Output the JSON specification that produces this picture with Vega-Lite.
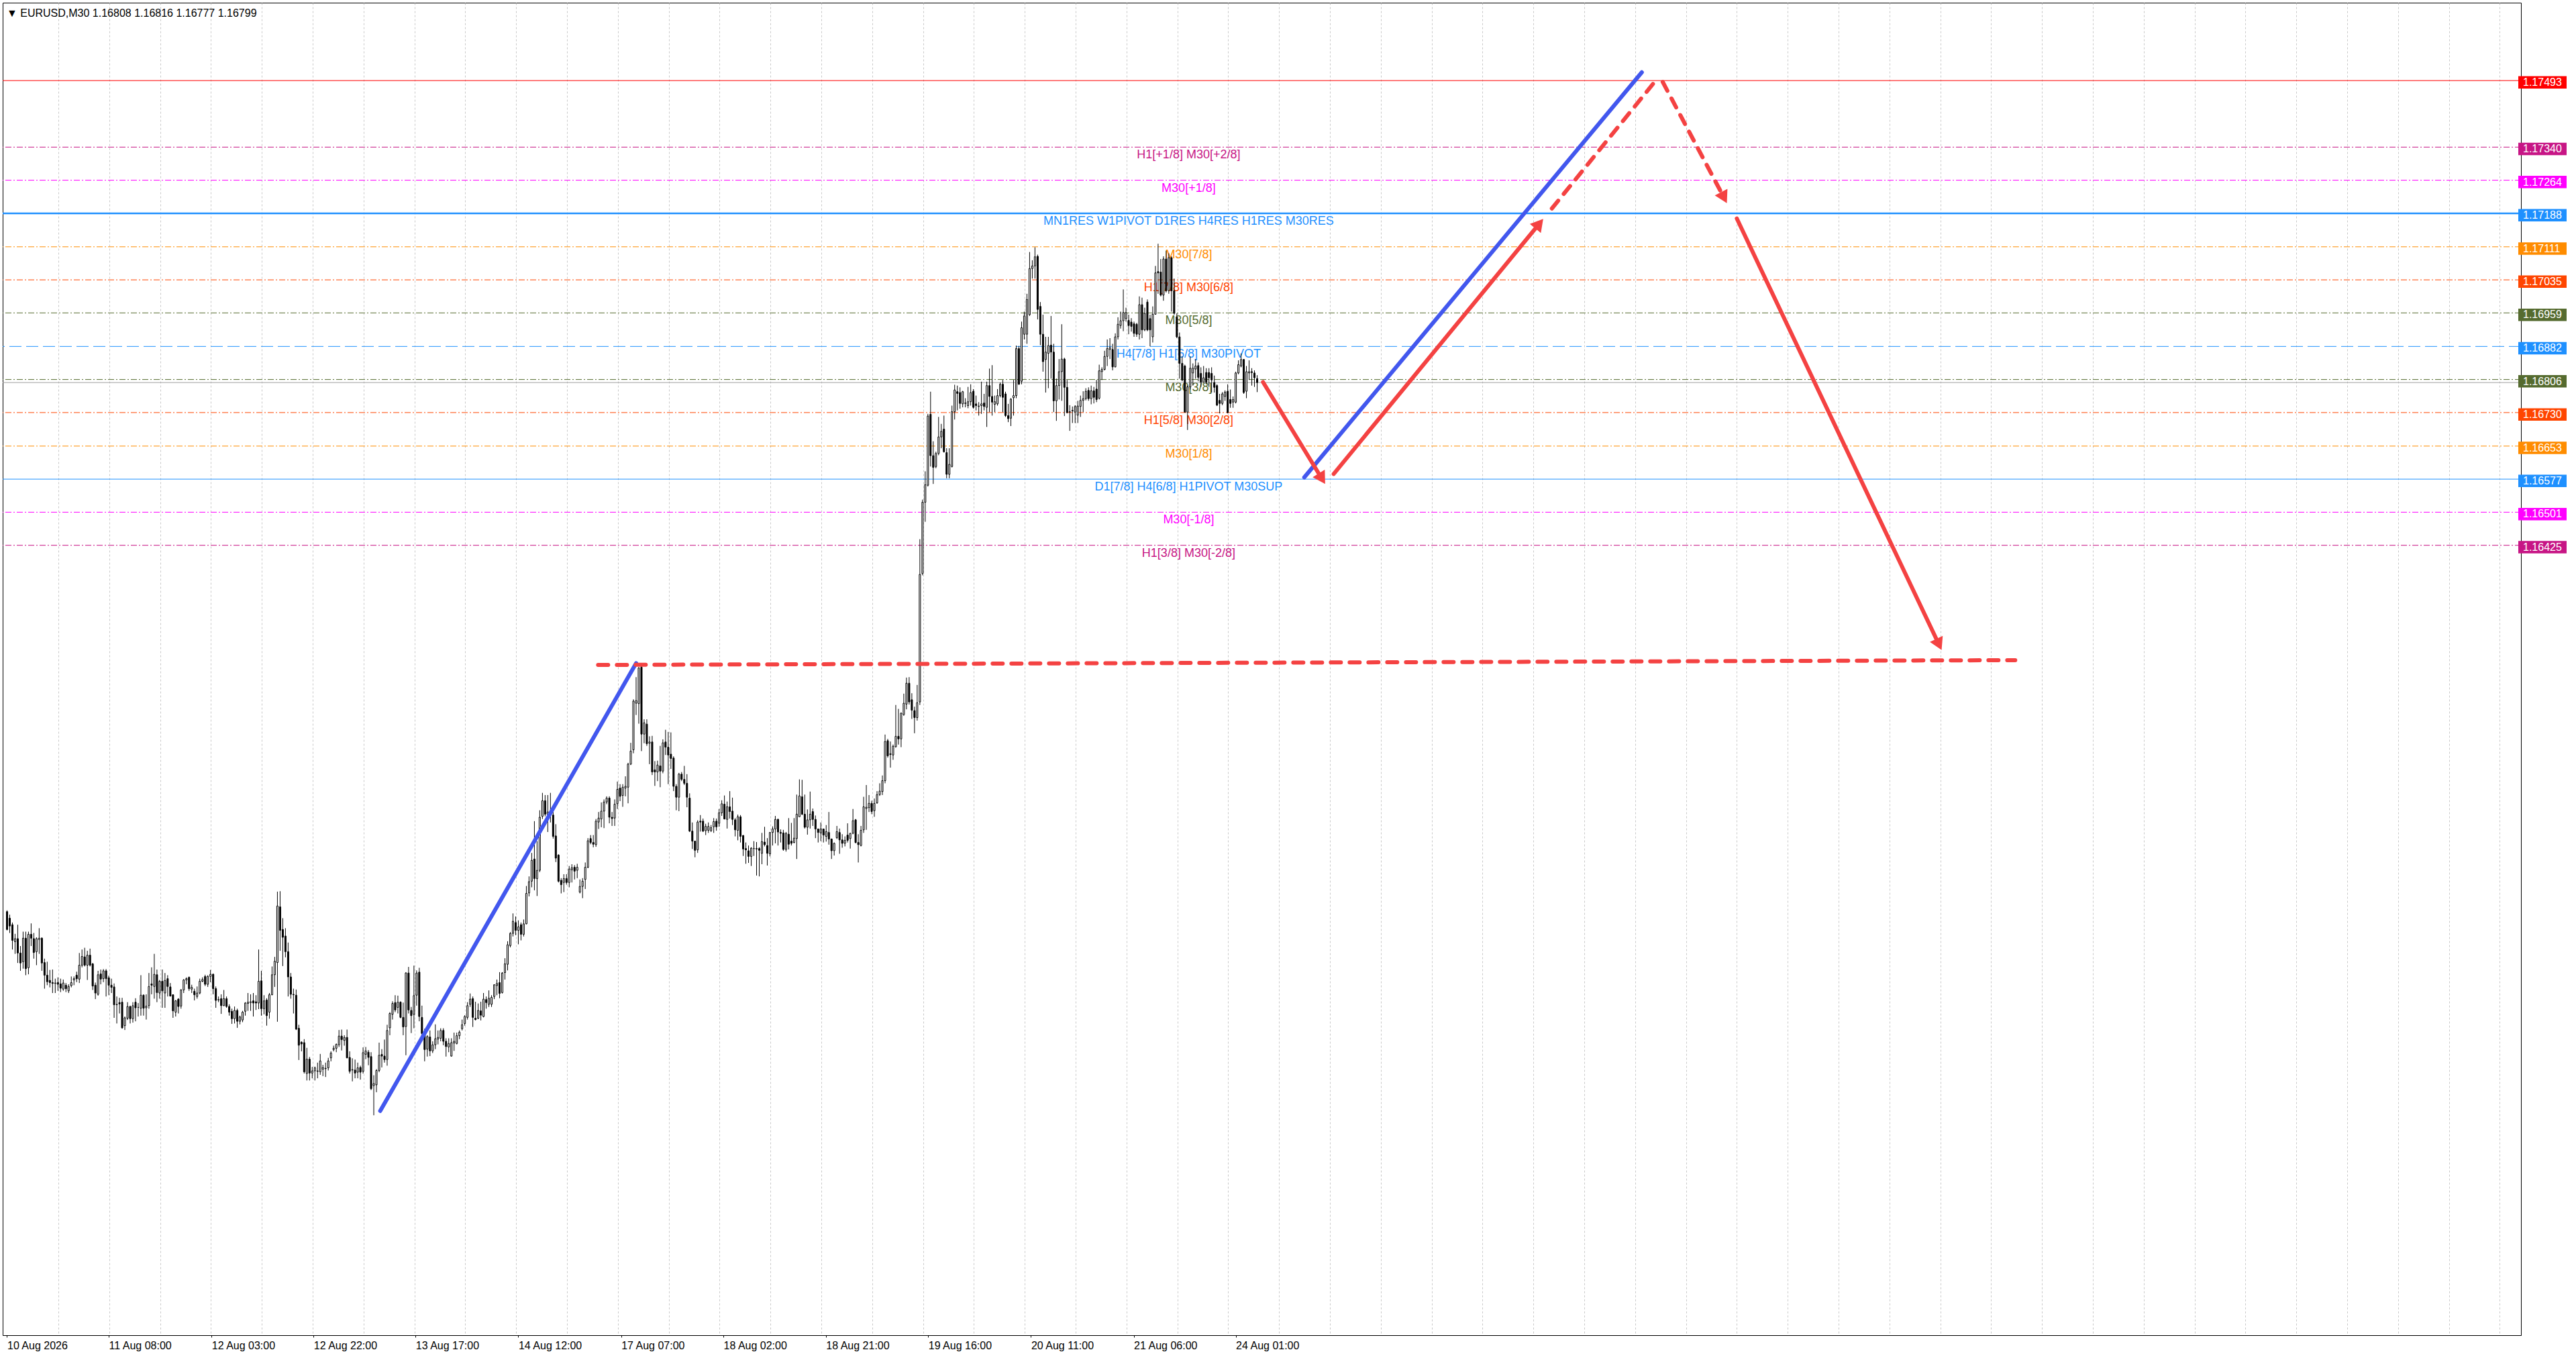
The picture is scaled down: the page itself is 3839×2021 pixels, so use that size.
{
  "$schema": "https://vega.github.io/schema/vega-lite/v6.json",
  "width": 3753,
  "height": 1986,
  "autosize": {"type": "none"},
  "padding": {"left": 4, "top": 4, "right": 82, "bottom": 31},
  "background": "#FFFFFF",
  "title": {
    "text": "▼ EURUSD,M30  1.16808 1.16816 1.16777 1.16799",
    "anchor": "start",
    "frame": "group",
    "orient": "top",
    "offset": -37,
    "baseline": "alphabetic",
    "dx": 6,
    "font": "Liberation Sans",
    "fontSize": 16,
    "fontWeight": "normal",
    "color": "#000000"
  },
  "config": {
    "view": {"stroke": "#000000", "strokeWidth": 1},
    "font": "Liberation Sans",
    "axis": {
      "labelFont": "Liberation Sans",
      "labelFontSize": 16,
      "labelColor": "#000000",
      "domainColor": "#000000",
      "tickColor": "#000000",
      "gridColor": "#C8C8C8",
      "gridDash": [3, 3],
      "gridWidth": 1
    }
  },
  "resolve": {"axis": {"x": "independent"}},
  "datasets": {
    "levels": [
      {"price": 1.17493, "tag": "alert", "label": ""},
      {"price": 1.1734, "tag": "+2/8", "label": "H1[+1/8] M30[+2/8]"},
      {"price": 1.17264, "tag": "+1/8", "label": "M30[+1/8]"},
      {"price": 1.17188, "tag": "8/8", "label": "MN1RES W1PIVOT D1RES H4RES H1RES M30RES"},
      {"price": 1.17111, "tag": "7/8", "label": "M30[7/8]"},
      {"price": 1.17035, "tag": "6/8", "label": "H1[7/8] M30[6/8]"},
      {"price": 1.16959, "tag": "5/8", "label": "M30[5/8]"},
      {"price": 1.16882, "tag": "4/8", "label": "H4[7/8] H1[6/8] M30PIVOT"},
      {"price": 1.16806, "tag": "3/8", "label": "M30[3/8]"},
      {"price": 1.1673, "tag": "2/8", "label": "H1[5/8] M30[2/8]"},
      {"price": 1.16653, "tag": "1/8", "label": "M30[1/8]"},
      {"price": 1.16577, "tag": "0/8", "label": "D1[7/8] H4[6/8] H1PIVOT M30SUP"},
      {"price": 1.16501, "tag": "-1/8", "label": "M30[-1/8]"},
      {"price": 1.16425, "tag": "-2/8", "label": "H1[3/8] M30[-2/8]"}
    ],
    "arrows": [
      {"seg": "wave1", "point": "start", "bar": 139.4, "price": 1.15125},
      {"seg": "wave1", "point": "end", "bar": 235.0, "price": 1.16154},
      {"seg": "target", "point": "start", "bar": 220.8, "price": 1.1615},
      {"seg": "target", "point": "end", "bar": 750.2, "price": 1.16161},
      {"seg": "dip", "point": "start", "bar": 469.2, "price": 1.168},
      {"seg": "dip", "point": "end", "bar": 491.2, "price": 1.16578},
      {"seg": "wave2", "point": "start", "bar": 484.6, "price": 1.16581},
      {"seg": "wave2", "point": "end", "bar": 610.7, "price": 1.17512},
      {"seg": "rally", "point": "start", "bar": 495.6, "price": 1.16589},
      {"seg": "rally", "point": "end", "bar": 572.4, "price": 1.17164},
      {"seg": "push", "point": "start", "bar": 577.1, "price": 1.17199},
      {"seg": "push", "point": "end", "bar": 615.5, "price": 1.1749},
      {"seg": "turn", "point": "start", "bar": 618.5, "price": 1.1749},
      {"seg": "turn", "point": "end", "bar": 641.4, "price": 1.17224},
      {"seg": "drop", "point": "start", "bar": 646.2, "price": 1.17176},
      {"seg": "drop", "point": "end", "bar": 721.7, "price": 1.16197}
    ],
    "bars": [
      {"bar":0,"open":1.15583,"high":1.15586,"low":1.1554,"close":1.15542},
      {"bar":1,"open":1.15568,"high":1.15576,"low":1.15534,"close":1.1555},
      {"bar":2,"open":1.15553,"high":1.15558,"low":1.15496,"close":1.15517},
      {"bar":3,"open":1.15514,"high":1.15532,"low":1.15486,"close":1.15521},
      {"bar":4,"open":1.15521,"high":1.15553,"low":1.15465,"close":1.15488},
      {"bar":5,"open":1.15488,"high":1.15504,"low":1.15447,"close":1.15465},
      {"bar":6,"open":1.15468,"high":1.15537,"low":1.15452,"close":1.15522},
      {"bar":7,"open":1.15522,"high":1.15537,"low":1.15437,"close":1.15452},
      {"bar":8,"open":1.15454,"high":1.15537,"low":1.15439,"close":1.15531},
      {"bar":9,"open":1.15531,"high":1.15556,"low":1.15504,"close":1.15522},
      {"bar":10,"open":1.15521,"high":1.15534,"low":1.15475,"close":1.15489},
      {"bar":11,"open":1.15491,"high":1.15524,"low":1.1546,"close":1.15521},
      {"bar":12,"open":1.15519,"high":1.15545,"low":1.15486,"close":1.15522},
      {"bar":13,"open":1.15522,"high":1.15524,"low":1.15447,"close":1.15465},
      {"bar":14,"open":1.15466,"high":1.15475,"low":1.15406,"close":1.15437},
      {"bar":15,"open":1.15437,"high":1.15468,"low":1.15414,"close":1.15422},
      {"bar":16,"open":1.15425,"high":1.15449,"low":1.15409,"close":1.1542},
      {"bar":17,"open":1.1542,"high":1.1545,"low":1.15396,"close":1.15418},
      {"bar":18,"open":1.15418,"high":1.15429,"low":1.15396,"close":1.15419},
      {"bar":19,"open":1.1542,"high":1.15432,"low":1.15401,"close":1.15416},
      {"bar":20,"open":1.15417,"high":1.15429,"low":1.15398,"close":1.15407},
      {"bar":21,"open":1.15405,"high":1.15427,"low":1.15401,"close":1.15419},
      {"bar":22,"open":1.15414,"high":1.15419,"low":1.15398,"close":1.15406},
      {"bar":23,"open":1.15401,"high":1.15416,"low":1.15396,"close":1.15411},
      {"bar":24,"open":1.15413,"high":1.15434,"low":1.15409,"close":1.1542},
      {"bar":25,"open":1.15426,"high":1.15434,"low":1.15414,"close":1.15429},
      {"bar":26,"open":1.15437,"high":1.15445,"low":1.15421,"close":1.15429},
      {"bar":27,"open":1.15428,"high":1.15488,"low":1.15419,"close":1.1546},
      {"bar":28,"open":1.1546,"high":1.15496,"low":1.15455,"close":1.1548},
      {"bar":29,"open":1.15479,"high":1.155,"low":1.15457,"close":1.1546},
      {"bar":30,"open":1.1546,"high":1.15493,"low":1.15426,"close":1.15483},
      {"bar":31,"open":1.15483,"high":1.15498,"low":1.15457,"close":1.1546},
      {"bar":32,"open":1.15463,"high":1.15465,"low":1.15403,"close":1.15412},
      {"bar":33,"open":1.15414,"high":1.1542,"low":1.15382,"close":1.15396},
      {"bar":34,"open":1.15393,"high":1.15447,"low":1.1539,"close":1.15438},
      {"bar":35,"open":1.1544,"high":1.1545,"low":1.15416,"close":1.15428},
      {"bar":36,"open":1.15429,"high":1.15451,"low":1.15421,"close":1.15447},
      {"bar":37,"open":1.15447,"high":1.15451,"low":1.15388,"close":1.15429},
      {"bar":38,"open":1.15431,"high":1.15436,"low":1.15391,"close":1.15414},
      {"bar":39,"open":1.15414,"high":1.15429,"low":1.15396,"close":1.15409},
      {"bar":40,"open":1.1541,"high":1.15418,"low":1.15339,"close":1.15369},
      {"bar":41,"open":1.15369,"high":1.15388,"low":1.15326,"close":1.1537},
      {"bar":42,"open":1.15374,"high":1.15385,"low":1.15349,"close":1.15371},
      {"bar":43,"open":1.15375,"high":1.15385,"low":1.15314,"close":1.15316},
      {"bar":44,"open":1.15321,"high":1.15342,"low":1.15311,"close":1.15339},
      {"bar":45,"open":1.15338,"high":1.15375,"low":1.15334,"close":1.15365},
      {"bar":46,"open":1.15365,"high":1.15367,"low":1.15326,"close":1.15337},
      {"bar":47,"open":1.15337,"high":1.15375,"low":1.15328,"close":1.15367},
      {"bar":48,"open":1.15375,"high":1.15384,"low":1.15331,"close":1.15362},
      {"bar":49,"open":1.15363,"high":1.15373,"low":1.15342,"close":1.15363},
      {"bar":50,"open":1.15361,"high":1.15437,"low":1.15344,"close":1.15391},
      {"bar":51,"open":1.15391,"high":1.15393,"low":1.15344,"close":1.15361},
      {"bar":52,"open":1.15362,"high":1.15393,"low":1.15335,"close":1.15366},
      {"bar":53,"open":1.15367,"high":1.15442,"low":1.1536,"close":1.15411},
      {"bar":54,"open":1.15417,"high":1.15455,"low":1.15393,"close":1.15414},
      {"bar":55,"open":1.15411,"high":1.15486,"low":1.15383,"close":1.15439},
      {"bar":56,"open":1.15438,"high":1.1545,"low":1.15375,"close":1.15397},
      {"bar":57,"open":1.15396,"high":1.15426,"low":1.15383,"close":1.15423},
      {"bar":58,"open":1.15423,"high":1.1545,"low":1.15362,"close":1.15401},
      {"bar":59,"open":1.15396,"high":1.15442,"low":1.15362,"close":1.15425},
      {"bar":60,"open":1.15429,"high":1.15437,"low":1.15388,"close":1.15411},
      {"bar":61,"open":1.1541,"high":1.15419,"low":1.15388,"close":1.15389},
      {"bar":62,"open":1.15392,"high":1.15393,"low":1.15339,"close":1.15355},
      {"bar":63,"open":1.15352,"high":1.1538,"low":1.15342,"close":1.15378},
      {"bar":64,"open":1.15382,"high":1.15384,"low":1.15349,"close":1.15365},
      {"bar":65,"open":1.15366,"high":1.15405,"low":1.1536,"close":1.15403},
      {"bar":66,"open":1.15403,"high":1.15428,"low":1.15396,"close":1.15426},
      {"bar":67,"open":1.15426,"high":1.15432,"low":1.15416,"close":1.15429},
      {"bar":68,"open":1.15432,"high":1.15434,"low":1.15401,"close":1.15406},
      {"bar":69,"open":1.15405,"high":1.15415,"low":1.15396,"close":1.15409},
      {"bar":70,"open":1.154,"high":1.15406,"low":1.15379,"close":1.15392},
      {"bar":71,"open":1.15388,"high":1.15411,"low":1.15383,"close":1.15396},
      {"bar":72,"open":1.15396,"high":1.15429,"low":1.15393,"close":1.15423},
      {"bar":73,"open":1.15423,"high":1.15432,"low":1.15421,"close":1.15427},
      {"bar":74,"open":1.15434,"high":1.15438,"low":1.15412,"close":1.15416},
      {"bar":75,"open":1.15416,"high":1.15437,"low":1.1541,"close":1.15434},
      {"bar":76,"open":1.15434,"high":1.15449,"low":1.15421,"close":1.15439},
      {"bar":77,"open":1.15439,"high":1.15441,"low":1.15393,"close":1.15406},
      {"bar":78,"open":1.15406,"high":1.15411,"low":1.15362,"close":1.15379},
      {"bar":79,"open":1.1538,"high":1.15388,"low":1.15375,"close":1.15381},
      {"bar":80,"open":1.15383,"high":1.15393,"low":1.15348,"close":1.15367},
      {"bar":81,"open":1.15367,"high":1.15403,"low":1.15366,"close":1.15383},
      {"bar":82,"open":1.15383,"high":1.15388,"low":1.15362,"close":1.15365},
      {"bar":83,"open":1.15365,"high":1.1537,"low":1.15344,"close":1.15352},
      {"bar":84,"open":1.15354,"high":1.1536,"low":1.15325,"close":1.15337},
      {"bar":85,"open":1.15337,"high":1.15365,"low":1.15326,"close":1.15356},
      {"bar":86,"open":1.15356,"high":1.1536,"low":1.15316,"close":1.15331},
      {"bar":87,"open":1.15331,"high":1.15344,"low":1.15324,"close":1.15341},
      {"bar":88,"open":1.15334,"high":1.15355,"low":1.15329,"close":1.15352},
      {"bar":89,"open":1.15354,"high":1.15375,"low":1.15344,"close":1.15373},
      {"bar":90,"open":1.15372,"high":1.15396,"low":1.15355,"close":1.15375},
      {"bar":91,"open":1.15374,"high":1.15393,"low":1.15355,"close":1.15376},
      {"bar":92,"open":1.15378,"high":1.15396,"low":1.15342,"close":1.15373},
      {"bar":93,"open":1.15376,"high":1.15391,"low":1.15357,"close":1.15373},
      {"bar":94,"open":1.15373,"high":1.15496,"low":1.15359,"close":1.15423},
      {"bar":95,"open":1.15424,"high":1.15447,"low":1.15344,"close":1.1536},
      {"bar":96,"open":1.1536,"high":1.15391,"low":1.15347,"close":1.15378},
      {"bar":97,"open":1.1538,"high":1.15384,"low":1.15321,"close":1.15344},
      {"bar":98,"open":1.15352,"high":1.15396,"low":1.15337,"close":1.15392},
      {"bar":99,"open":1.15392,"high":1.15457,"low":1.15391,"close":1.15438},
      {"bar":100,"open":1.15438,"high":1.15479,"low":1.1541,"close":1.15469},
      {"bar":101,"open":1.15466,"high":1.15629,"low":1.1533,"close":1.15596},
      {"bar":102,"open":1.15594,"high":1.1563,"low":1.15493,"close":1.1554},
      {"bar":103,"open":1.15542,"high":1.15568,"low":1.15458,"close":1.15524},
      {"bar":104,"open":1.15527,"high":1.15545,"low":1.15478,"close":1.15491},
      {"bar":105,"open":1.15491,"high":1.15512,"low":1.15388,"close":1.15433},
      {"bar":106,"open":1.15433,"high":1.15442,"low":1.15383,"close":1.15393},
      {"bar":107,"open":1.15393,"high":1.15406,"low":1.15349,"close":1.15392},
      {"bar":108,"open":1.15391,"high":1.15404,"low":1.15311,"close":1.15313},
      {"bar":109,"open":1.15315,"high":1.15323,"low":1.15242,"close":1.15276},
      {"bar":110,"open":1.15283,"high":1.15285,"low":1.15262,"close":1.15279},
      {"bar":111,"open":1.15282,"high":1.1529,"low":1.15211,"close":1.15215},
      {"bar":112,"open":1.15211,"high":1.1527,"low":1.15195,"close":1.15244},
      {"bar":113,"open":1.15244,"high":1.15249,"low":1.15195,"close":1.15212},
      {"bar":114,"open":1.15212,"high":1.15226,"low":1.152,"close":1.15217},
      {"bar":115,"open":1.15217,"high":1.15227,"low":1.15195,"close":1.15224},
      {"bar":116,"open":1.15216,"high":1.15236,"low":1.152,"close":1.15217},
      {"bar":117,"open":1.15215,"high":1.15256,"low":1.15208,"close":1.1524},
      {"bar":118,"open":1.15221,"high":1.15231,"low":1.15205,"close":1.15225},
      {"bar":119,"open":1.15222,"high":1.15236,"low":1.15203,"close":1.15223},
      {"bar":120,"open":1.15224,"high":1.15247,"low":1.15218,"close":1.1524},
      {"bar":121,"open":1.15247,"high":1.15262,"low":1.15239,"close":1.15258},
      {"bar":122,"open":1.15266,"high":1.15275,"low":1.15262,"close":1.15269},
      {"bar":123,"open":1.15269,"high":1.1528,"low":1.1526,"close":1.15278},
      {"bar":124,"open":1.15277,"high":1.15311,"low":1.15272,"close":1.15297},
      {"bar":125,"open":1.15297,"high":1.15312,"low":1.15264,"close":1.15289},
      {"bar":126,"open":1.15287,"high":1.15299,"low":1.15275,"close":1.15294},
      {"bar":127,"open":1.15294,"high":1.15312,"low":1.15246,"close":1.15247},
      {"bar":128,"open":1.15248,"high":1.15262,"low":1.15211,"close":1.15216},
      {"bar":129,"open":1.15219,"high":1.15246,"low":1.15193,"close":1.1522},
      {"bar":130,"open":1.15219,"high":1.15243,"low":1.152,"close":1.15212},
      {"bar":131,"open":1.15214,"high":1.15236,"low":1.152,"close":1.15224},
      {"bar":132,"open":1.15225,"high":1.15229,"low":1.15197,"close":1.15214},
      {"bar":133,"open":1.15216,"high":1.15271,"low":1.15211,"close":1.15259},
      {"bar":134,"open":1.15255,"high":1.15272,"low":1.15244,"close":1.15263},
      {"bar":135,"open":1.1526,"high":1.15265,"low":1.1523,"close":1.15248},
      {"bar":136,"open":1.1525,"high":1.1526,"low":1.15173,"close":1.15176},
      {"bar":137,"open":1.15183,"high":1.15207,"low":1.15115,"close":1.15188},
      {"bar":138,"open":1.15185,"high":1.15221,"low":1.15168,"close":1.15218},
      {"bar":139,"open":1.15218,"high":1.15282,"low":1.15214,"close":1.15253},
      {"bar":140,"open":1.15255,"high":1.15267,"low":1.15225,"close":1.15251},
      {"bar":141,"open":1.15251,"high":1.15289,"low":1.15236,"close":1.15243},
      {"bar":142,"open":1.15243,"high":1.15323,"low":1.15229,"close":1.1531},
      {"bar":143,"open":1.15316,"high":1.15352,"low":1.15299,"close":1.15349},
      {"bar":144,"open":1.15347,"high":1.15377,"low":1.15335,"close":1.15372},
      {"bar":145,"open":1.15374,"high":1.15391,"low":1.15352,"close":1.15357},
      {"bar":146,"open":1.15363,"high":1.1539,"low":1.15349,"close":1.15375},
      {"bar":147,"open":1.15375,"high":1.15377,"low":1.15338,"close":1.1534},
      {"bar":148,"open":1.1534,"high":1.15374,"low":1.15299,"close":1.15318},
      {"bar":149,"open":1.15319,"high":1.15444,"low":1.15253,"close":1.15442},
      {"bar":150,"open":1.15442,"high":1.15456,"low":1.15349,"close":1.15357},
      {"bar":151,"open":1.15356,"high":1.15364,"low":1.15304,"close":1.15344},
      {"bar":152,"open":1.15347,"high":1.15459,"low":1.15315,"close":1.1539},
      {"bar":153,"open":1.15391,"high":1.15448,"low":1.15367,"close":1.15442},
      {"bar":154,"open":1.15444,"high":1.15454,"low":1.15331,"close":1.15342},
      {"bar":155,"open":1.1534,"high":1.15367,"low":1.15285,"close":1.15303},
      {"bar":156,"open":1.15303,"high":1.15314,"low":1.15239,"close":1.15266},
      {"bar":157,"open":1.15267,"high":1.15299,"low":1.1525,"close":1.15296},
      {"bar":158,"open":1.15295,"high":1.1531,"low":1.15251,"close":1.15263},
      {"bar":159,"open":1.15263,"high":1.15285,"low":1.15258,"close":1.15277},
      {"bar":160,"open":1.15277,"high":1.15324,"low":1.15267,"close":1.15291},
      {"bar":161,"open":1.1529,"high":1.1531,"low":1.15278,"close":1.15294},
      {"bar":162,"open":1.15292,"high":1.15315,"low":1.15285,"close":1.1531},
      {"bar":163,"open":1.1531,"high":1.15315,"low":1.15276,"close":1.15285},
      {"bar":164,"open":1.15285,"high":1.15292,"low":1.1525,"close":1.15273},
      {"bar":165,"open":1.15272,"high":1.15292,"low":1.1526,"close":1.1528},
      {"bar":166,"open":1.15251,"high":1.15292,"low":1.1525,"close":1.15282},
      {"bar":167,"open":1.15281,"high":1.15305,"low":1.15263,"close":1.15285},
      {"bar":168,"open":1.1528,"high":1.15305,"low":1.15278,"close":1.15298},
      {"bar":169,"open":1.15298,"high":1.1531,"low":1.1529,"close":1.15306},
      {"bar":170,"open":1.15314,"high":1.15335,"low":1.1531,"close":1.15323},
      {"bar":171,"open":1.15326,"high":1.15345,"low":1.15321,"close":1.15342},
      {"bar":172,"open":1.1534,"high":1.15375,"low":1.15335,"close":1.15367},
      {"bar":173,"open":1.1537,"high":1.15395,"low":1.15364,"close":1.15382},
      {"bar":174,"open":1.15383,"high":1.15388,"low":1.15318,"close":1.1534},
      {"bar":175,"open":1.15338,"high":1.15376,"low":1.15333,"close":1.15335},
      {"bar":176,"open":1.15338,"high":1.15372,"low":1.15336,"close":1.15356},
      {"bar":177,"open":1.15355,"high":1.15376,"low":1.15333,"close":1.15345},
      {"bar":178,"open":1.15342,"high":1.15396,"low":1.1534,"close":1.15382},
      {"bar":179,"open":1.15381,"high":1.15388,"low":1.1536,"close":1.15374},
      {"bar":180,"open":1.1537,"high":1.15402,"low":1.15364,"close":1.15384},
      {"bar":181,"open":1.1537,"high":1.15391,"low":1.15364,"close":1.15386},
      {"bar":182,"open":1.15388,"high":1.15416,"low":1.15382,"close":1.15415},
      {"bar":183,"open":1.15413,"high":1.15427,"low":1.15391,"close":1.15418},
      {"bar":184,"open":1.1542,"high":1.15444,"low":1.15384,"close":1.15395},
      {"bar":185,"open":1.15397,"high":1.15444,"low":1.15395,"close":1.15442},
      {"bar":186,"open":1.15443,"high":1.15476,"low":1.15427,"close":1.15463},
      {"bar":187,"open":1.15462,"high":1.15515,"low":1.15448,"close":1.15507},
      {"bar":188,"open":1.15505,"high":1.15536,"low":1.15501,"close":1.15533},
      {"bar":189,"open":1.15533,"high":1.15579,"low":1.15526,"close":1.15561},
      {"bar":190,"open":1.15558,"high":1.15572,"low":1.15529,"close":1.1554},
      {"bar":191,"open":1.1554,"high":1.15563,"low":1.15508,"close":1.15548},
      {"bar":192,"open":1.15553,"high":1.15558,"low":1.15517,"close":1.15531},
      {"bar":193,"open":1.15531,"high":1.15565,"low":1.15526,"close":1.15555},
      {"bar":194,"open":1.15555,"high":1.15642,"low":1.15554,"close":1.15625},
      {"bar":195,"open":1.15626,"high":1.15664,"low":1.15618,"close":1.15652},
      {"bar":196,"open":1.15653,"high":1.15718,"low":1.15639,"close":1.15701},
      {"bar":197,"open":1.15704,"high":1.15791,"low":1.15632,"close":1.15659},
      {"bar":198,"open":1.15659,"high":1.15745,"low":1.15619,"close":1.15678},
      {"bar":199,"open":1.15678,"high":1.15816,"low":1.15674,"close":1.158},
      {"bar":200,"open":1.15802,"high":1.15856,"low":1.15796,"close":1.15838},
      {"bar":201,"open":1.15838,"high":1.15851,"low":1.15802,"close":1.15807},
      {"bar":202,"open":1.15807,"high":1.15851,"low":1.15766,"close":1.15812},
      {"bar":203,"open":1.1581,"high":1.15856,"low":1.15788,"close":1.15812},
      {"bar":204,"open":1.15805,"high":1.15812,"low":1.15751,"close":1.15756},
      {"bar":205,"open":1.15757,"high":1.15784,"low":1.15697,"close":1.15706},
      {"bar":206,"open":1.15713,"high":1.15715,"low":1.1565,"close":1.15653},
      {"bar":207,"open":1.15655,"high":1.1566,"low":1.15625,"close":1.15645},
      {"bar":208,"open":1.1565,"high":1.15669,"low":1.15628,"close":1.15659},
      {"bar":209,"open":1.15659,"high":1.15669,"low":1.15645,"close":1.1565},
      {"bar":210,"open":1.1565,"high":1.15688,"low":1.15639,"close":1.15681},
      {"bar":211,"open":1.15679,"high":1.15692,"low":1.1565,"close":1.15684},
      {"bar":212,"open":1.15685,"high":1.1569,"low":1.15657,"close":1.15676},
      {"bar":213,"open":1.15678,"high":1.15693,"low":1.1566,"close":1.15685},
      {"bar":214,"open":1.15628,"high":1.15657,"low":1.15625,"close":1.15641},
      {"bar":215,"open":1.15641,"high":1.1566,"low":1.15614,"close":1.15653},
      {"bar":216,"open":1.15657,"high":1.15696,"low":1.15635,"close":1.15685},
      {"bar":217,"open":1.15685,"high":1.15752,"low":1.15683,"close":1.15746},
      {"bar":218,"open":1.15751,"high":1.15759,"low":1.15738,"close":1.15742},
      {"bar":219,"open":1.15742,"high":1.15759,"low":1.15731,"close":1.15738},
      {"bar":220,"open":1.15737,"high":1.15796,"low":1.15732,"close":1.15791},
      {"bar":221,"open":1.15789,"high":1.15812,"low":1.15773,"close":1.15798},
      {"bar":222,"open":1.15796,"high":1.15834,"low":1.15777,"close":1.15814},
      {"bar":223,"open":1.15814,"high":1.15841,"low":1.15775,"close":1.15835},
      {"bar":224,"open":1.15835,"high":1.15848,"low":1.1583,"close":1.15844},
      {"bar":225,"open":1.15844,"high":1.15848,"low":1.15786,"close":1.158},
      {"bar":226,"open":1.158,"high":1.15812,"low":1.1578,"close":1.15797},
      {"bar":227,"open":1.15798,"high":1.15841,"low":1.1578,"close":1.1583},
      {"bar":228,"open":1.15831,"high":1.15882,"low":1.15819,"close":1.15864},
      {"bar":229,"open":1.15867,"high":1.15876,"low":1.15837,"close":1.15848},
      {"bar":230,"open":1.1585,"high":1.15876,"low":1.15824,"close":1.15869},
      {"bar":231,"open":1.15867,"high":1.15894,"low":1.15848,"close":1.15871},
      {"bar":232,"open":1.15869,"high":1.15925,"low":1.15832,"close":1.15922},
      {"bar":233,"open":1.15922,"high":1.15971,"low":1.1592,"close":1.15952},
      {"bar":234,"open":1.15955,"high":1.16071,"low":1.15947,"close":1.16067},
      {"bar":235,"open":1.16062,"high":1.16122,"low":1.16035,"close":1.16068},
      {"bar":236,"open":1.16061,"high":1.16145,"low":1.16015,"close":1.16143},
      {"bar":237,"open":1.16145,"high":1.1615,"low":1.15952,"close":1.15991},
      {"bar":238,"open":1.15991,"high":1.16025,"low":1.1597,"close":1.16017},
      {"bar":239,"open":1.16014,"high":1.16025,"low":1.15964,"close":1.15969},
      {"bar":240,"open":1.1597,"high":1.15986,"low":1.15922,"close":1.15973},
      {"bar":241,"open":1.15973,"high":1.15987,"low":1.15897,"close":1.15904},
      {"bar":242,"open":1.15909,"high":1.15929,"low":1.15872,"close":1.15904},
      {"bar":243,"open":1.15904,"high":1.1593,"low":1.15883,"close":1.1592},
      {"bar":244,"open":1.15918,"high":1.15964,"low":1.15869,"close":1.15906},
      {"bar":245,"open":1.15906,"high":1.15979,"low":1.15901,"close":1.15971},
      {"bar":246,"open":1.15973,"high":1.16001,"low":1.15943,"close":1.15961},
      {"bar":247,"open":1.15961,"high":1.15996,"low":1.15876,"close":1.15943},
      {"bar":248,"open":1.15945,"high":1.15995,"low":1.15911,"close":1.15935},
      {"bar":249,"open":1.15936,"high":1.1594,"low":1.1586,"close":1.15871},
      {"bar":250,"open":1.15871,"high":1.15876,"low":1.15816,"close":1.15846},
      {"bar":251,"open":1.15846,"high":1.15902,"low":1.15814,"close":1.15899},
      {"bar":252,"open":1.15899,"high":1.15904,"low":1.15883,"close":1.15887},
      {"bar":253,"open":1.15887,"high":1.15918,"low":1.15874,"close":1.15878},
      {"bar":254,"open":1.15878,"high":1.15899,"low":1.15823,"close":1.15846},
      {"bar":255,"open":1.15844,"high":1.15855,"low":1.15766,"close":1.15768},
      {"bar":256,"open":1.15768,"high":1.15788,"low":1.15727,"close":1.15745},
      {"bar":257,"open":1.15745,"high":1.15746,"low":1.15708,"close":1.15724},
      {"bar":258,"open":1.15725,"high":1.15793,"low":1.15718,"close":1.15789},
      {"bar":259,"open":1.15791,"high":1.15805,"low":1.15767,"close":1.15789},
      {"bar":260,"open":1.15791,"high":1.15797,"low":1.15766,"close":1.15768},
      {"bar":261,"open":1.15769,"high":1.15785,"low":1.15759,"close":1.15779},
      {"bar":262,"open":1.1577,"high":1.15788,"low":1.15764,"close":1.15779},
      {"bar":263,"open":1.15769,"high":1.15782,"low":1.15766,"close":1.15776},
      {"bar":264,"open":1.15778,"high":1.15798,"low":1.15764,"close":1.1579},
      {"bar":265,"open":1.15791,"high":1.15797,"low":1.15769,"close":1.15778},
      {"bar":266,"open":1.15786,"high":1.15819,"low":1.15778,"close":1.1581},
      {"bar":267,"open":1.1581,"high":1.15839,"low":1.15803,"close":1.15831},
      {"bar":268,"open":1.1583,"high":1.1585,"low":1.15795,"close":1.15796},
      {"bar":269,"open":1.15795,"high":1.15836,"low":1.15774,"close":1.15824},
      {"bar":270,"open":1.15824,"high":1.1586,"low":1.15797,"close":1.15813},
      {"bar":271,"open":1.15814,"high":1.15845,"low":1.15782,"close":1.15795},
      {"bar":272,"open":1.15794,"high":1.15798,"low":1.15756,"close":1.15771},
      {"bar":273,"open":1.1577,"high":1.15806,"low":1.15747,"close":1.15801},
      {"bar":274,"open":1.15801,"high":1.15805,"low":1.15742,"close":1.15756},
      {"bar":275,"open":1.15758,"high":1.15759,"low":1.15711,"close":1.15727},
      {"bar":276,"open":1.15728,"high":1.15742,"low":1.15693,"close":1.15725},
      {"bar":277,"open":1.15723,"high":1.15735,"low":1.15695,"close":1.1571},
      {"bar":278,"open":1.1571,"high":1.15731,"low":1.15688,"close":1.15729},
      {"bar":279,"open":1.15728,"high":1.15745,"low":1.15711,"close":1.15728},
      {"bar":280,"open":1.15728,"high":1.15743,"low":1.15666,"close":1.15727},
      {"bar":281,"open":1.15728,"high":1.15731,"low":1.15664,"close":1.15724},
      {"bar":282,"open":1.15717,"high":1.15764,"low":1.15692,"close":1.15744},
      {"bar":283,"open":1.15743,"high":1.15778,"low":1.15733,"close":1.15737},
      {"bar":284,"open":1.15735,"high":1.15752,"low":1.15689,"close":1.15717},
      {"bar":285,"open":1.15716,"high":1.15766,"low":1.1571,"close":1.15765},
      {"bar":286,"open":1.15765,"high":1.15779,"low":1.15735,"close":1.15773},
      {"bar":287,"open":1.15773,"high":1.15803,"low":1.1574,"close":1.15795},
      {"bar":288,"open":1.15795,"high":1.15797,"low":1.15735,"close":1.15766},
      {"bar":289,"open":1.15765,"high":1.15772,"low":1.15742,"close":1.15763},
      {"bar":290,"open":1.15764,"high":1.15771,"low":1.15723,"close":1.15726},
      {"bar":291,"open":1.15726,"high":1.15766,"low":1.15721,"close":1.15763},
      {"bar":292,"open":1.15761,"high":1.15798,"low":1.15726,"close":1.15738},
      {"bar":293,"open":1.15745,"high":1.15787,"low":1.15735,"close":1.1574},
      {"bar":294,"open":1.15742,"high":1.15798,"low":1.1574,"close":1.15752},
      {"bar":295,"open":1.15751,"high":1.15852,"low":1.15704,"close":1.15807},
      {"bar":296,"open":1.15801,"high":1.15887,"low":1.158,"close":1.15849},
      {"bar":297,"open":1.15847,"high":1.15886,"low":1.15805,"close":1.15807},
      {"bar":298,"open":1.15807,"high":1.15852,"low":1.15774,"close":1.15777},
      {"bar":299,"open":1.15777,"high":1.15818,"low":1.1576,"close":1.15794},
      {"bar":300,"open":1.15794,"high":1.15859,"low":1.15774,"close":1.15807},
      {"bar":301,"open":1.15813,"high":1.1582,"low":1.1578,"close":1.15795},
      {"bar":302,"open":1.15795,"high":1.15804,"low":1.15752,"close":1.15773},
      {"bar":303,"open":1.15773,"high":1.15774,"low":1.15742,"close":1.15765},
      {"bar":304,"open":1.15764,"high":1.15788,"low":1.15745,"close":1.15773},
      {"bar":305,"open":1.15773,"high":1.15774,"low":1.15742,"close":1.15759},
      {"bar":306,"open":1.15756,"high":1.15782,"low":1.15744,"close":1.15767},
      {"bar":307,"open":1.15765,"high":1.15812,"low":1.15737,"close":1.1575},
      {"bar":308,"open":1.1575,"high":1.15751,"low":1.15704,"close":1.15723},
      {"bar":309,"open":1.15723,"high":1.15742,"low":1.15712,"close":1.1574},
      {"bar":310,"open":1.15753,"high":1.1578,"low":1.1575,"close":1.15767},
      {"bar":311,"open":1.15765,"high":1.15774,"low":1.15716,"close":1.15748},
      {"bar":312,"open":1.15748,"high":1.15761,"low":1.1573,"close":1.1574},
      {"bar":313,"open":1.1574,"high":1.15756,"low":1.15733,"close":1.15747},
      {"bar":314,"open":1.15759,"high":1.15786,"low":1.15742,"close":1.15747},
      {"bar":315,"open":1.15751,"high":1.15764,"low":1.15728,"close":1.15763},
      {"bar":316,"open":1.15763,"high":1.15819,"low":1.15761,"close":1.15792},
      {"bar":317,"open":1.15794,"high":1.15796,"low":1.1574,"close":1.15742},
      {"bar":318,"open":1.15742,"high":1.15761,"low":1.15696,"close":1.15737},
      {"bar":319,"open":1.15735,"high":1.1578,"low":1.15733,"close":1.1577},
      {"bar":320,"open":1.15771,"high":1.15847,"low":1.15764,"close":1.15824},
      {"bar":321,"open":1.1582,"high":1.15874,"low":1.15771,"close":1.15823},
      {"bar":322,"open":1.15822,"high":1.15851,"low":1.15812,"close":1.15832},
      {"bar":323,"open":1.15832,"high":1.15838,"low":1.15807,"close":1.15813},
      {"bar":324,"open":1.15815,"high":1.15843,"low":1.15801,"close":1.15832},
      {"bar":325,"open":1.15833,"high":1.1586,"low":1.15831,"close":1.15852},
      {"bar":326,"open":1.15852,"high":1.15878,"low":1.15849,"close":1.1586},
      {"bar":327,"open":1.15859,"high":1.15896,"low":1.15851,"close":1.15884},
      {"bar":328,"open":1.15884,"high":1.1599,"low":1.15878,"close":1.15974},
      {"bar":329,"open":1.15976,"high":1.1598,"low":1.15937,"close":1.15941},
      {"bar":330,"open":1.15944,"high":1.15974,"low":1.15914,"close":1.15946},
      {"bar":331,"open":1.15943,"high":1.15967,"low":1.15932,"close":1.15963},
      {"bar":332,"open":1.15962,"high":1.16058,"low":1.1596,"close":1.15986},
      {"bar":333,"open":1.15986,"high":1.16049,"low":1.15967,"close":1.1598},
      {"bar":334,"open":1.1598,"high":1.16041,"low":1.15961,"close":1.16039},
      {"bar":335,"open":1.16036,"high":1.16084,"low":1.16033,"close":1.16062},
      {"bar":336,"open":1.1606,"high":1.16121,"low":1.16048,"close":1.16108},
      {"bar":337,"open":1.16108,"high":1.16122,"low":1.16059,"close":1.16065},
      {"bar":338,"open":1.1607,"high":1.16085,"low":1.16026,"close":1.16046},
      {"bar":339,"open":1.16045,"high":1.16054,"low":1.15993,"close":1.16029},
      {"bar":340,"open":1.16029,"high":1.16104,"low":1.16022,"close":1.16063},
      {"bar":341,"open":1.16065,"high":1.16439,"low":1.16058,"close":1.16358},
      {"bar":342,"open":1.1636,"high":1.1653,"low":1.16356,"close":1.16524},
      {"bar":343,"open":1.16524,"high":1.16595,"low":1.16479,"close":1.16564},
      {"bar":344,"open":1.16563,"high":1.16727,"low":1.1656,"close":1.16722},
      {"bar":345,"open":1.16726,"high":1.16778,"low":1.16606,"close":1.16631},
      {"bar":346,"open":1.16631,"high":1.16664,"low":1.16566,"close":1.16604},
      {"bar":347,"open":1.16606,"high":1.1664,"low":1.16602,"close":1.16636},
      {"bar":348,"open":1.16636,"high":1.1672,"low":1.16632,"close":1.16674},
      {"bar":349,"open":1.16674,"high":1.16704,"low":1.16648,"close":1.16687},
      {"bar":350,"open":1.16692,"high":1.16723,"low":1.16638,"close":1.1664},
      {"bar":351,"open":1.16638,"high":1.16648,"low":1.16579,"close":1.16588},
      {"bar":352,"open":1.16588,"high":1.16648,"low":1.16579,"close":1.16611},
      {"bar":353,"open":1.16606,"high":1.16746,"low":1.16604,"close":1.16732},
      {"bar":354,"open":1.16732,"high":1.16794,"low":1.16714,"close":1.16782},
      {"bar":355,"open":1.16778,"high":1.16792,"low":1.16735,"close":1.16774},
      {"bar":356,"open":1.16776,"high":1.16788,"low":1.16739,"close":1.16751},
      {"bar":357,"open":1.1675,"high":1.1678,"low":1.16742,"close":1.16778},
      {"bar":358,"open":1.16751,"high":1.16763,"low":1.16742,"close":1.16752},
      {"bar":359,"open":1.16746,"high":1.16789,"low":1.1674,"close":1.16755},
      {"bar":360,"open":1.16755,"high":1.16795,"low":1.16746,"close":1.16776},
      {"bar":361,"open":1.16779,"high":1.16784,"low":1.16739,"close":1.16742},
      {"bar":362,"open":1.1675,"high":1.16769,"low":1.16735,"close":1.16746},
      {"bar":363,"open":1.16744,"high":1.16754,"low":1.16723,"close":1.16745},
      {"bar":364,"open":1.16746,"high":1.16801,"low":1.16727,"close":1.1675},
      {"bar":365,"open":1.16752,"high":1.16773,"low":1.16735,"close":1.16744},
      {"bar":366,"open":1.16742,"high":1.16801,"low":1.16697,"close":1.16792},
      {"bar":367,"open":1.16792,"high":1.16831,"low":1.16731,"close":1.16767},
      {"bar":368,"open":1.16767,"high":1.16839,"low":1.16723,"close":1.16754},
      {"bar":369,"open":1.16749,"high":1.16769,"low":1.16731,"close":1.16755},
      {"bar":370,"open":1.1675,"high":1.16784,"low":1.16746,"close":1.16769},
      {"bar":371,"open":1.16769,"high":1.16799,"low":1.16765,"close":1.16795},
      {"bar":372,"open":1.16795,"high":1.16805,"low":1.16731,"close":1.16765},
      {"bar":373,"open":1.16773,"high":1.16778,"low":1.1672,"close":1.16723},
      {"bar":374,"open":1.16723,"high":1.1675,"low":1.16708,"close":1.16716},
      {"bar":375,"open":1.16717,"high":1.16763,"low":1.16699,"close":1.16761},
      {"bar":376,"open":1.16764,"high":1.16805,"low":1.16723,"close":1.16769},
      {"bar":377,"open":1.16769,"high":1.16884,"low":1.16763,"close":1.16877},
      {"bar":378,"open":1.16877,"high":1.16883,"low":1.16794,"close":1.16795},
      {"bar":379,"open":1.16802,"high":1.16939,"low":1.16795,"close":1.16925},
      {"bar":380,"open":1.1691,"high":1.16962,"low":1.16898,"close":1.16952},
      {"bar":381,"open":1.1691,"high":1.17003,"low":1.16888,"close":1.1699},
      {"bar":382,"open":1.16955,"high":1.17099,"low":1.16952,"close":1.17061},
      {"bar":383,"open":1.17061,"high":1.1708,"low":1.17038,"close":1.17067},
      {"bar":384,"open":1.17067,"high":1.1711,"low":1.17038,"close":1.17088},
      {"bar":385,"open":1.17089,"high":1.17093,"low":1.16944,"close":1.16967},
      {"bar":386,"open":1.16974,"high":1.16984,"low":1.16885,"close":1.1691},
      {"bar":387,"open":1.1691,"high":1.16955,"low":1.16824,"close":1.16847},
      {"bar":388,"open":1.16852,"high":1.16904,"low":1.16776,"close":1.16869},
      {"bar":389,"open":1.16866,"high":1.16904,"low":1.16786,"close":1.16884},
      {"bar":390,"open":1.16885,"high":1.16952,"low":1.16808,"close":1.16869},
      {"bar":391,"open":1.16869,"high":1.16888,"low":1.16731,"close":1.16757},
      {"bar":392,"open":1.16757,"high":1.16808,"low":1.16711,"close":1.16792},
      {"bar":393,"open":1.16792,"high":1.16853,"low":1.1676,"close":1.16824},
      {"bar":394,"open":1.16824,"high":1.16933,"low":1.16757,"close":1.16853},
      {"bar":395,"open":1.16853,"high":1.16856,"low":1.16722,"close":1.16788},
      {"bar":396,"open":1.16788,"high":1.16805,"low":1.16728,"close":1.1673},
      {"bar":397,"open":1.16731,"high":1.16747,"low":1.16688,"close":1.16732},
      {"bar":398,"open":1.16735,"high":1.16744,"low":1.16706,"close":1.16734},
      {"bar":399,"open":1.16731,"high":1.16747,"low":1.16706,"close":1.16744},
      {"bar":400,"open":1.16724,"high":1.16757,"low":1.16706,"close":1.16745},
      {"bar":401,"open":1.16744,"high":1.16769,"low":1.1672,"close":1.16758},
      {"bar":402,"open":1.16758,"high":1.16779,"low":1.16731,"close":1.16762},
      {"bar":403,"open":1.16762,"high":1.16786,"low":1.16758,"close":1.16779},
      {"bar":404,"open":1.16781,"high":1.16788,"low":1.16757,"close":1.16762},
      {"bar":405,"open":1.16762,"high":1.16792,"low":1.16749,"close":1.1678},
      {"bar":406,"open":1.1678,"high":1.16789,"low":1.16751,"close":1.16765},
      {"bar":407,"open":1.16784,"high":1.16805,"low":1.16754,"close":1.1676},
      {"bar":408,"open":1.16763,"high":1.1684,"low":1.1676,"close":1.16826},
      {"bar":409,"open":1.16824,"high":1.16834,"low":1.16805,"close":1.16829},
      {"bar":410,"open":1.16829,"high":1.16872,"low":1.16827,"close":1.16859},
      {"bar":411,"open":1.16859,"high":1.16898,"low":1.16837,"close":1.16877},
      {"bar":412,"open":1.16875,"high":1.16901,"low":1.16853,"close":1.16879},
      {"bar":413,"open":1.16875,"high":1.16888,"low":1.16827,"close":1.16835},
      {"bar":414,"open":1.16835,"high":1.16912,"low":1.16834,"close":1.16904},
      {"bar":415,"open":1.16904,"high":1.16949,"low":1.16898,"close":1.16933},
      {"bar":416,"open":1.1693,"high":1.16962,"low":1.16923,"close":1.16941},
      {"bar":417,"open":1.16941,"high":1.17013,"low":1.16917,"close":1.1696},
      {"bar":418,"open":1.16946,"high":1.16971,"low":1.16939,"close":1.1696},
      {"bar":419,"open":1.16942,"high":1.16955,"low":1.1691,"close":1.1693},
      {"bar":420,"open":1.16938,"high":1.16947,"low":1.16916,"close":1.16928},
      {"bar":421,"open":1.16934,"high":1.16939,"low":1.16904,"close":1.16912},
      {"bar":422,"open":1.16933,"high":1.16936,"low":1.16904,"close":1.1691},
      {"bar":423,"open":1.1691,"high":1.16997,"low":1.16898,"close":1.16978},
      {"bar":424,"open":1.16978,"high":1.16994,"low":1.16901,"close":1.1692},
      {"bar":425,"open":1.1692,"high":1.16971,"low":1.16917,"close":1.16958},
      {"bar":426,"open":1.16984,"high":1.1699,"low":1.16917,"close":1.1692},
      {"bar":427,"open":1.16946,"high":1.16955,"low":1.16882,"close":1.1692},
      {"bar":428,"open":1.16904,"high":1.16974,"low":1.16891,"close":1.16956},
      {"bar":429,"open":1.16956,"high":1.17067,"low":1.16955,"close":1.17051},
      {"bar":430,"open":1.17054,"high":1.17118,"low":1.17003,"close":1.17051},
      {"bar":431,"open":1.17053,"high":1.17083,"low":1.16997,"close":1.17},
      {"bar":432,"open":1.17,"high":1.17089,"low":1.16987,"close":1.17083},
      {"bar":433,"open":1.17083,"high":1.17102,"low":1.17006,"close":1.1701},
      {"bar":434,"open":1.1701,"high":1.17096,"low":1.17003,"close":1.17086},
      {"bar":435,"open":1.17086,"high":1.17089,"low":1.16962,"close":1.1701},
      {"bar":436,"open":1.1701,"high":1.17038,"low":1.16955,"close":1.16958},
      {"bar":437,"open":1.16949,"high":1.16958,"low":1.16901,"close":1.16904},
      {"bar":438,"open":1.16904,"high":1.16914,"low":1.16808,"close":1.16843},
      {"bar":439,"open":1.16843,"high":1.16859,"low":1.16802,"close":1.16805},
      {"bar":440,"open":1.16837,"high":1.1684,"low":1.1673,"close":1.16731},
      {"bar":441,"open":1.16731,"high":1.16792,"low":1.1669,"close":1.16789},
      {"bar":442,"open":1.16789,"high":1.16859,"low":1.16783,"close":1.16832},
      {"bar":443,"open":1.16821,"high":1.16843,"low":1.16792,"close":1.16832},
      {"bar":444,"open":1.1683,"high":1.16853,"low":1.16808,"close":1.16837},
      {"bar":445,"open":1.16838,"high":1.16845,"low":1.16802,"close":1.16811},
      {"bar":446,"open":1.1682,"high":1.16834,"low":1.16789,"close":1.168},
      {"bar":447,"open":1.168,"high":1.16837,"low":1.16799,"close":1.1681},
      {"bar":448,"open":1.16822,"high":1.16832,"low":1.16795,"close":1.168},
      {"bar":449,"open":1.16822,"high":1.16832,"low":1.16789,"close":1.1681},
      {"bar":450,"open":1.1682,"high":1.16834,"low":1.16776,"close":1.16805},
      {"bar":451,"open":1.16799,"high":1.16815,"low":1.16776,"close":1.16788},
      {"bar":452,"open":1.16792,"high":1.16795,"low":1.16745,"close":1.16747},
      {"bar":453,"open":1.16758,"high":1.16773,"low":1.16728,"close":1.16751},
      {"bar":454,"open":1.16751,"high":1.16777,"low":1.16747,"close":1.16773},
      {"bar":455,"open":1.16767,"high":1.16781,"low":1.16757,"close":1.16777},
      {"bar":456,"open":1.16779,"high":1.16795,"low":1.16728,"close":1.1673},
      {"bar":457,"open":1.1676,"high":1.16783,"low":1.16741,"close":1.16751},
      {"bar":458,"open":1.16754,"high":1.16767,"low":1.16741,"close":1.1676},
      {"bar":459,"open":1.16754,"high":1.16824,"low":1.16751,"close":1.16821},
      {"bar":460,"open":1.16821,"high":1.1685,"low":1.16818,"close":1.1684},
      {"bar":461,"open":1.16837,"high":1.16866,"low":1.16834,"close":1.16852},
      {"bar":462,"open":1.16852,"high":1.16853,"low":1.16773,"close":1.16776},
      {"bar":463,"open":1.16779,"high":1.16837,"low":1.16763,"close":1.16824},
      {"bar":464,"open":1.16821,"high":1.1685,"low":1.16805,"close":1.16824},
      {"bar":465,"open":1.16824,"high":1.16832,"low":1.16792,"close":1.16822},
      {"bar":466,"open":1.16821,"high":1.16827,"low":1.16789,"close":1.1681},
      {"bar":467,"open":1.16808,"high":1.16816,"low":1.16777,"close":1.16799}
    ]
  },
  "layer": [
    {
      "data": {"name": "levels"},
      "transform": [{"filter": {"field": "tag", "oneOf": ["+2/8", "+1/8", "7/8", "6/8", "5/8", "3/8", "2/8", "1/8", "-1/8", "-2/8"]}}],
      "mark": {"type": "rule", "strokeWidth": 1, "strokeDash": [9, 3, 2, 3]},
      "encoding": {
        "y": {"field": "price", "type": "quantitative", "scale": {"domain": [1.146096, 1.17672], "nice": false, "zero": false}, "axis": null},
        "color": {"field": "tag", "type": "nominal", "legend": null, "scale": {"domain": ["alert", "+2/8", "+1/8", "8/8", "7/8", "6/8", "5/8", "4/8", "3/8", "2/8", "1/8", "0/8", "-1/8", "-2/8"], "range": ["#FF0000", "#C71585", "#FF00FF", "#1E90FF", "#FF8C00", "#FF4500", "#556B2F", "#1E90FF", "#556B2F", "#FF4500", "#FF8C00", "#1E90FF", "#FF00FF", "#C71585"]}}
      }
    },
    {
      "data": {"name": "levels"},
      "transform": [{"filter": "datum.tag == '4/8'"}],
      "mark": {"type": "rule", "strokeWidth": 1, "strokeDash": [18, 7], "color": "#1E90FF"},
      "encoding": {
        "y": {"field": "price", "type": "quantitative", "scale": {"domain": [1.146096, 1.17672], "nice": false, "zero": false}, "axis": null}
      }
    },
    {
      "data": {"name": "levels"},
      "transform": [{"filter": "datum.tag == '8/8'"}],
      "mark": {"type": "rule", "strokeWidth": 2.5, "color": "#1E90FF"},
      "encoding": {
        "y": {"field": "price", "type": "quantitative", "scale": {"domain": [1.146096, 1.17672], "nice": false, "zero": false}, "axis": null}
      }
    },
    {
      "data": {"name": "levels"},
      "transform": [{"filter": "datum.tag == '0/8' || datum.tag == 'alert'"}],
      "mark": {"type": "rule", "strokeWidth": 1},
      "encoding": {
        "y": {"field": "price", "type": "quantitative", "scale": {"domain": [1.146096, 1.17672], "nice": false, "zero": false}, "axis": null},
        "color": {"field": "tag", "type": "nominal", "legend": null, "scale": {"domain": ["alert", "+2/8", "+1/8", "8/8", "7/8", "6/8", "5/8", "4/8", "3/8", "2/8", "1/8", "0/8", "-1/8", "-2/8"], "range": ["#FF0000", "#C71585", "#FF00FF", "#1E90FF", "#FF8C00", "#FF4500", "#556B2F", "#1E90FF", "#556B2F", "#FF4500", "#FF8C00", "#1E90FF", "#FF00FF", "#C71585"]}}
      }
    },
    {
      "data": {"name": "levels"},
      "transform": [{"filter": "datum.label != ''"}],
      "mark": {"type": "text", "align": "center", "baseline": "alphabetic", "dy": 17, "font": "Liberation Sans", "fontSize": 18},
      "encoding": {
        "x": {"datum": 441.4, "type": "quantitative", "scale": {"domain": [-0.375, 937.875], "nice": false, "zero": false}, "axis": null},
        "y": {"field": "price", "type": "quantitative", "scale": {"domain": [1.146096, 1.17672], "nice": false, "zero": false}, "axis": null},
        "text": {"field": "label"},
        "color": {"field": "tag", "type": "nominal", "legend": null, "scale": {"domain": ["alert", "+2/8", "+1/8", "8/8", "7/8", "6/8", "5/8", "4/8", "3/8", "2/8", "1/8", "0/8", "-1/8", "-2/8"], "range": ["#FF0000", "#C71585", "#FF00FF", "#1E90FF", "#FF8C00", "#FF4500", "#556B2F", "#1E90FF", "#556B2F", "#FF4500", "#FF8C00", "#1E90FF", "#FF00FF", "#C71585"]}}
      }
    },
    {
      "data": {"name": "bars"},
      "transform": [{"filter": "datum.bar == 467"}],
      "mark": {"type": "rule", "strokeWidth": 1, "color": "#A0A0A0"},
      "encoding": {
        "y": {"field": "close", "type": "quantitative", "scale": {"domain": [1.146096, 1.17672], "nice": false, "zero": false}, "axis": null}
      }
    },
    {
      "data": {"name": "bars"},
      "mark": {"type": "rule", "color": "#000000", "strokeWidth": 1},
      "encoding": {
        "x": {
          "field": "bar", "type": "quantitative",
          "scale": {"domain": [-0.375, 937.875], "nice": false, "zero": false},
          "axis": {
            "orient": "bottom",
            "values": [0, 38, 76.4, 114.5, 152.6, 191, 229.4, 267.6, 305.9, 344.1, 382.5, 420.9, 459],
            "labelExpr": "['10 Aug 2026','11 Aug 08:00','12 Aug 03:00','12 Aug 22:00','13 Aug 17:00','14 Aug 12:00','17 Aug 07:00','18 Aug 02:00','18 Aug 21:00','19 Aug 16:00','20 Aug 11:00','21 Aug 06:00','24 Aug 01:00'][round(datum.value / 38.25)]",
            "grid": false,
            "ticks": true,
            "tickSize": 3,
            "domain": true,
            "labelAlign": "left",
            "labelBaseline": "top",
            "labelPadding": 4,
            "labelOverlap": false,
            "labelFlush": false,
            "labelBound": false,
            "title": null
          }
        },
        "y": {
          "field": "low", "type": "quantitative",
          "scale": {"domain": [1.146096, 1.17672], "nice": false, "zero": false},
          "axis": {
            "orient": "right",
            "values": [1.14685, 1.14805, 1.14925, 1.15045, 1.15165, 1.15285, 1.15405, 1.15525, 1.15645, 1.15765, 1.15885, 1.16005, 1.16125, 1.16245, 1.16365, 1.16485, 1.16605, 1.16725, 1.16845, 1.16965, 1.17085, 1.17205, 1.17325, 1.17445, 1.17565],
            "format": ".5f",
            "grid": true,
            "tickSize": 4,
            "labelPadding": 4,
            "labelOverlap": false,
            "labelFlush": false,
            "labelBound": false,
            "title": null
          }
        },
        "y2": {"field": "high"}
      }
    },
    {
      "data": {"name": "bars"},
      "mark": {"type": "bar", "orient": "vertical", "width": 2, "stroke": "#000000", "strokeWidth": 1},
      "encoding": {
        "x": {
          "field": "bar", "type": "quantitative",
          "scale": {"domain": [-0.375, 937.875], "nice": false, "zero": false},
          "axis": {
            "orient": "bottom",
            "values": [19.2, 38.2, 57.2, 76.2, 95.2, 114.2, 133.2, 152.2, 171.2, 190.2, 209.2, 228.2, 247.2, 266.2, 285.2, 304.2, 323.2, 342.2, 361.2, 380.2, 399.2, 418.2, 437.2, 456.2, 475.2, 494.2, 513.2, 532.2, 551.2, 570.2, 589.2, 608.2, 627.2, 646.2, 665.2, 684.2, 703.2, 722.2, 741.2, 760.2, 779.2, 798.2, 817.2, 836.2, 855.2, 874.2, 893.2, 912.2, 931.2],
            "grid": true,
            "labels": false,
            "ticks": false,
            "domain": false,
            "title": null
          }
        },
        "y": {"field": "open", "type": "quantitative", "scale": {"domain": [1.146096, 1.17672], "nice": false, "zero": false}, "axis": null},
        "y2": {"field": "close"},
        "fill": {"condition": {"test": "datum.close >= datum.open", "value": "#FFFFFF"}, "value": "#000000"}
      }
    },
    {
      "data": {"name": "arrows"},
      "transform": [{"filter": {"field": "seg", "oneOf": ["wave1", "wave2"]}}],
      "mark": {"type": "line", "color": "#4257EE", "strokeWidth": 6, "strokeCap": "round"},
      "encoding": {
        "x": {"field": "bar", "type": "quantitative", "scale": {"domain": [-0.375, 937.875], "nice": false, "zero": false}, "axis": null},
        "y": {"field": "price", "type": "quantitative", "scale": {"domain": [1.146096, 1.17672], "nice": false, "zero": false}, "axis": null},
        "detail": {"field": "seg"}
      }
    },
    {
      "data": {"name": "arrows"},
      "transform": [{"filter": {"field": "seg", "oneOf": ["dip", "rally", "drop"]}}],
      "mark": {"type": "line", "color": "#F44242", "strokeWidth": 6, "strokeCap": "round"},
      "encoding": {
        "x": {"field": "bar", "type": "quantitative", "scale": {"domain": [-0.375, 937.875], "nice": false, "zero": false}, "axis": null},
        "y": {"field": "price", "type": "quantitative", "scale": {"domain": [1.146096, 1.17672], "nice": false, "zero": false}, "axis": null},
        "detail": {"field": "seg"}
      }
    },
    {
      "data": {"name": "arrows"},
      "transform": [{"filter": {"field": "seg", "oneOf": ["target", "push", "turn"]}}],
      "mark": {"type": "line", "color": "#F44242", "strokeWidth": 6, "strokeCap": "round", "strokeDash": [15, 13]},
      "encoding": {
        "x": {"field": "bar", "type": "quantitative", "scale": {"domain": [-0.375, 937.875], "nice": false, "zero": false}, "axis": null},
        "y": {"field": "price", "type": "quantitative", "scale": {"domain": [1.146096, 1.17672], "nice": false, "zero": false}, "axis": null},
        "detail": {"field": "seg"}
      }
    },
    {
      "data": {"name": "arrows"},
      "transform": [{"filter": "datum.seg == 'dip' && datum.point == 'end'"}],
      "mark": {"type": "point", "shape": "triangle-up", "angle": 148.6, "size": 450, "filled": true, "color": "#F44242", "opacity": 1},
      "encoding": {
        "x": {"field": "bar", "type": "quantitative", "scale": {"domain": [-0.375, 937.875], "nice": false, "zero": false}, "axis": null},
        "y": {"field": "price", "type": "quantitative", "scale": {"domain": [1.146096, 1.17672], "nice": false, "zero": false}, "axis": null}
      }
    },
    {
      "data": {"name": "arrows"},
      "transform": [{"filter": "datum.seg == 'rally' && datum.point == 'end'"}],
      "mark": {"type": "point", "shape": "triangle-up", "angle": 39.5, "size": 450, "filled": true, "color": "#F44242", "opacity": 1},
      "encoding": {
        "x": {"field": "bar", "type": "quantitative", "scale": {"domain": [-0.375, 937.875], "nice": false, "zero": false}, "axis": null},
        "y": {"field": "price", "type": "quantitative", "scale": {"domain": [1.146096, 1.17672], "nice": false, "zero": false}, "axis": null}
      }
    },
    {
      "data": {"name": "arrows"},
      "transform": [{"filter": "datum.seg == 'turn' && datum.point == 'end'"}],
      "mark": {"type": "point", "shape": "triangle-up", "angle": 152.4, "size": 450, "filled": true, "color": "#F44242", "opacity": 1},
      "encoding": {
        "x": {"field": "bar", "type": "quantitative", "scale": {"domain": [-0.375, 937.875], "nice": false, "zero": false}, "axis": null},
        "y": {"field": "price", "type": "quantitative", "scale": {"domain": [1.146096, 1.17672], "nice": false, "zero": false}, "axis": null}
      }
    },
    {
      "data": {"name": "arrows"},
      "transform": [{"filter": "datum.seg == 'drop' && datum.point == 'end'"}],
      "mark": {"type": "point", "shape": "triangle-up", "angle": 154.6, "size": 450, "filled": true, "color": "#F44242", "opacity": 1},
      "encoding": {
        "x": {"field": "bar", "type": "quantitative", "scale": {"domain": [-0.375, 937.875], "nice": false, "zero": false}, "axis": null},
        "y": {"field": "price", "type": "quantitative", "scale": {"domain": [1.146096, 1.17672], "nice": false, "zero": false}, "axis": null}
      }
    },
    {
      "data": {"name": "levels"},
      "mark": {"type": "rect", "xOffset": 1, "x2Offset": 73, "yOffset": -6.5, "y2Offset": 12},
      "encoding": {
        "x": {"datum": 937.875, "type": "quantitative", "scale": {"domain": [-0.375, 937.875], "nice": false, "zero": false}, "axis": null},
        "x2": {"datum": 937.875},
        "y": {"field": "price", "type": "quantitative", "scale": {"domain": [1.146096, 1.17672], "nice": false, "zero": false}, "axis": null},
        "y2": {"field": "price"},
        "color": {"field": "tag", "type": "nominal", "legend": null, "scale": {"domain": ["alert", "+2/8", "+1/8", "8/8", "7/8", "6/8", "5/8", "4/8", "3/8", "2/8", "1/8", "0/8", "-1/8", "-2/8"], "range": ["#FF0000", "#C71585", "#FF00FF", "#1E90FF", "#FF8C00", "#FF4500", "#556B2F", "#1E90FF", "#556B2F", "#FF4500", "#FF8C00", "#1E90FF", "#FF00FF", "#C71585"]}}
      }
    },
    {
      "data": {"name": "levels"},
      "mark": {"type": "text", "align": "left", "baseline": "middle", "dx": 8, "dy": 3, "font": "Liberation Sans", "fontSize": 16, "color": "#FFFFFF"},
      "encoding": {
        "x": {"datum": 937.875, "type": "quantitative", "scale": {"domain": [-0.375, 937.875], "nice": false, "zero": false}, "axis": null},
        "y": {"field": "price", "type": "quantitative", "scale": {"domain": [1.146096, 1.17672], "nice": false, "zero": false}, "axis": null},
        "text": {"field": "price", "format": ".5f"}
      }
    }
  ]
}
